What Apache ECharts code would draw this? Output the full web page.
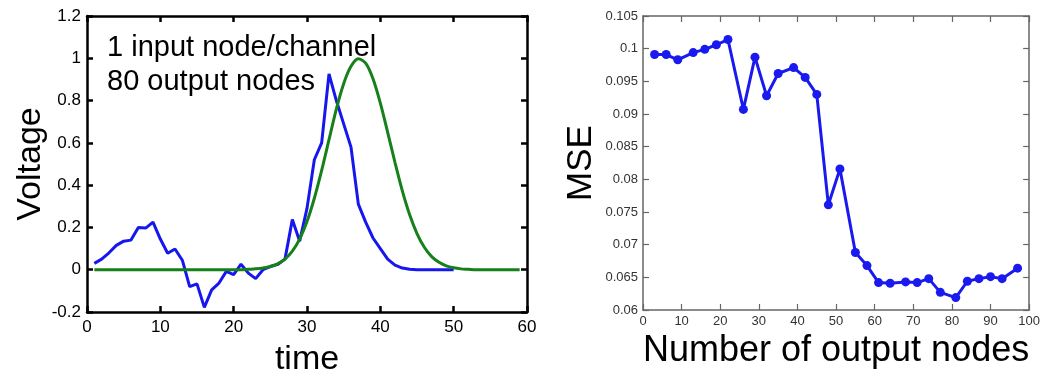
<!DOCTYPE html>
<html>
<head>
<meta charset="utf-8">
<script src="https://cdn.jsdelivr.net/npm/echarts@6/dist/echarts.min.js"></script>
<style>
  html, body { margin: 0; padding: 0; background: #fff; }
  #chart { width: 1043px; height: 382px; }
</style>
</head>
<body>
<div id="chart"></div>
<script>
// Left panel: network output (blue) vs. target pulse (green) over time
const outputTime = [1,2,3,4,5,6,7,8,9,10,11,12,13,14,15,16,17,18,19,20,21,22,23,24,25,
  26,27,28,29,30,31,32,33,34,35,36,37,38,39,40,41,42,43,44,45,46,47,48,49,50];
const outputVoltage = [0.03,0.05,0.08,0.115,0.135,0.14,0.2,0.197,0.225,0.145,0.078,0.098,0.045,-0.08,-0.067,
  -0.178,-0.095,-0.063,-0.008,-0.023,0.026,-0.016,-0.042,0.0,0.015,0.025,0.05,0.237,0.135,0.29,
  0.52,0.6,0.926,0.8,0.69,0.58,0.31,0.225,0.15,0.1,0.05,0.022,0.008,0.002,0.0,0.0,0.0,0.0,0.0,0.0];

const targetTime = [1,2,3,4,5,6,7,8,9,10,11,12,13,14,15,16,17,18,19,20,21,22,23,24,25,26,27,28,29,30,
  31,32,33,34,35,36,37,38,39,40,41,42,43,44,45,46,47,48,49,50,51,52,53,54,55,56,57,58,59];
const targetVoltage = [0,0,0,0,0,0,0,0,0,0,0,0,0,0,0,0,0,0,0,0,0,0.002,0.004,0.008,0.015,0.028,0.05,0.088,0.145,0.228,
  0.338,0.47,0.615,0.76,0.88,0.962,0.998,0.977,0.903,0.788,0.65,0.507,0.373,0.26,0.171,0.106,0.062,0.035,0.018,0.009,
  0.004,0.002,0,0,0,0,0,0,0];

// Right panel: MSE against the number of output nodes
const outputNodes = [3,6,9,13,16,19,22,26,29,32,35,39,42,45,48,51,55,58,61,64,68,71,74,77,81,84,87,90,93,97];
const mseValues = [0.0991,0.0991,0.0983,0.0994,0.0999,0.1006,0.1014,0.0907,0.0987,0.0928,0.0962,0.0971,0.0956,0.0930,0.0761,
  0.0816,0.0688,0.0668,0.0642,0.0641,0.0643,0.0642,0.0648,0.0627,0.0619,0.0644,0.0648,0.0651,0.0648,0.0664];

const annotationLines = ['1 input node/channel', '80 output nodes'];

const pairs = (xs, ys) => xs.map((x, i) => [x, ys[i]]);

const FONT = '"Liberation Sans", Arial, Helvetica, sans-serif';
const NARROW = '"Liberation Sans Narrow", "Liberation Sans", Arial, sans-serif';

const leftAxisLine = { show: true, onZero: false, lineStyle: { color: '#000', width: 2.5 } };
const leftTick = { show: true, inside: true, length: 6, lineStyle: { color: '#000', width: 2.5 } };
const rightAxisLine = { show: true, onZero: false, lineStyle: { color: '#666', width: 1.5 } };
const rightTick = { show: true, inside: true, length: 6, lineStyle: { color: '#666', width: 1.2 } };

const chart = echarts.init(document.getElementById('chart'), null, { renderer: 'canvas' });

chart.setOption({
  backgroundColor: '#fff',
  animation: false,
  grid: [
    { left: 87, top: 16, width: 440, height: 301 },
    { left: 643, top: 16, width: 394, height: 294 }
  ],
  xAxis: [
    {
      gridIndex: 0, type: 'value', min: 0, max: 60, interval: 10, position: 'bottom',
      axisLine: leftAxisLine, axisTick: leftTick, splitLine: { show: false },
      axisLabel: { color: '#000', fontSize: 17, fontFamily: FONT, margin: 7 },
      name: 'time', nameLocation: 'middle', nameGap: 31,
      nameTextStyle: { color: '#000', fontSize: 34, fontFamily: FONT }
    },
    {
      gridIndex: 0, type: 'value', min: 0, max: 60, interval: 10, position: 'top',
      axisLine: leftAxisLine, axisTick: leftTick, axisLabel: { show: false }, splitLine: { show: false }
    },
    {
      gridIndex: 1, type: 'value', min: 0, max: 100, interval: 10, position: 'bottom',
      axisLine: rightAxisLine, axisTick: rightTick, splitLine: { show: false },
      axisLabel: { color: '#333', fontSize: 13, fontFamily: NARROW, margin: 5 },
      name: 'Number of output nodes', nameLocation: 'middle', nameGap: 18,
      nameTextStyle: { color: '#000', fontSize: 36, fontFamily: FONT }
    },
    {
      gridIndex: 1, type: 'value', min: 0, max: 100, interval: 10, position: 'top',
      axisLine: rightAxisLine, axisTick: rightTick, axisLabel: { show: false }, splitLine: { show: false }
    }
  ],
  yAxis: [
    {
      gridIndex: 0, type: 'value', min: -0.2, max: 1.2, interval: 0.2, position: 'left',
      axisLine: leftAxisLine, axisTick: leftTick, splitLine: { show: false },
      axisLabel: { color: '#000', fontSize: 17, fontFamily: FONT, margin: 6 },
      name: 'Voltage', nameLocation: 'middle', nameGap: 37, nameRotate: 90,
      nameTextStyle: { color: '#000', fontSize: 34, fontFamily: FONT }
    },
    {
      gridIndex: 0, type: 'value', min: -0.2, max: 1.2, interval: 0.2, position: 'right',
      axisLine: leftAxisLine, axisTick: leftTick, axisLabel: { show: false }, splitLine: { show: false }
    },
    {
      gridIndex: 1, type: 'value', min: 0.06, max: 0.105, interval: 0.005, position: 'left',
      axisLine: rightAxisLine, axisTick: rightTick, splitLine: { show: false },
      axisLabel: { color: '#333', fontSize: 13, fontFamily: NARROW, margin: 5 },
      name: 'MSE', nameLocation: 'middle', nameGap: 44, nameRotate: 90,
      nameTextStyle: { color: '#000', fontSize: 35, fontFamily: FONT }
    },
    {
      gridIndex: 1, type: 'value', min: 0.06, max: 0.105, interval: 0.005, position: 'right',
      axisLine: rightAxisLine, axisTick: rightTick, axisLabel: { show: false }, splitLine: { show: false }
    }
  ],
  series: [
    {
      name: 'output', type: 'line', xAxisIndex: 0, yAxisIndex: 0,
      data: pairs(outputTime, outputVoltage), showSymbol: false, symbol: 'none',
      lineStyle: { color: '#1616ee', width: 3 }, z: 2
    },
    {
      name: 'target', type: 'line', xAxisIndex: 0, yAxisIndex: 0,
      data: pairs(targetTime, targetVoltage), showSymbol: false, symbol: 'none',
      smooth: 0.3,
      lineStyle: { color: '#16801a', width: 3 }, z: 3
    },
    {
      name: 'MSE', type: 'line', xAxisIndex: 2, yAxisIndex: 2,
      data: pairs(outputNodes, mseValues), symbol: 'circle', symbolSize: 9,
      itemStyle: { color: '#1a1aee' },
      lineStyle: { color: '#1a1aee', width: 3 }
    }
  ],
  graphic: annotationLines.map((line, i) => ({
    type: 'text', left: 107, top: 33 + i * 34,
    style: { text: line, fill: '#000', fontSize: 29, fontFamily: FONT }
  }))
});
</script>
</body>
</html>
